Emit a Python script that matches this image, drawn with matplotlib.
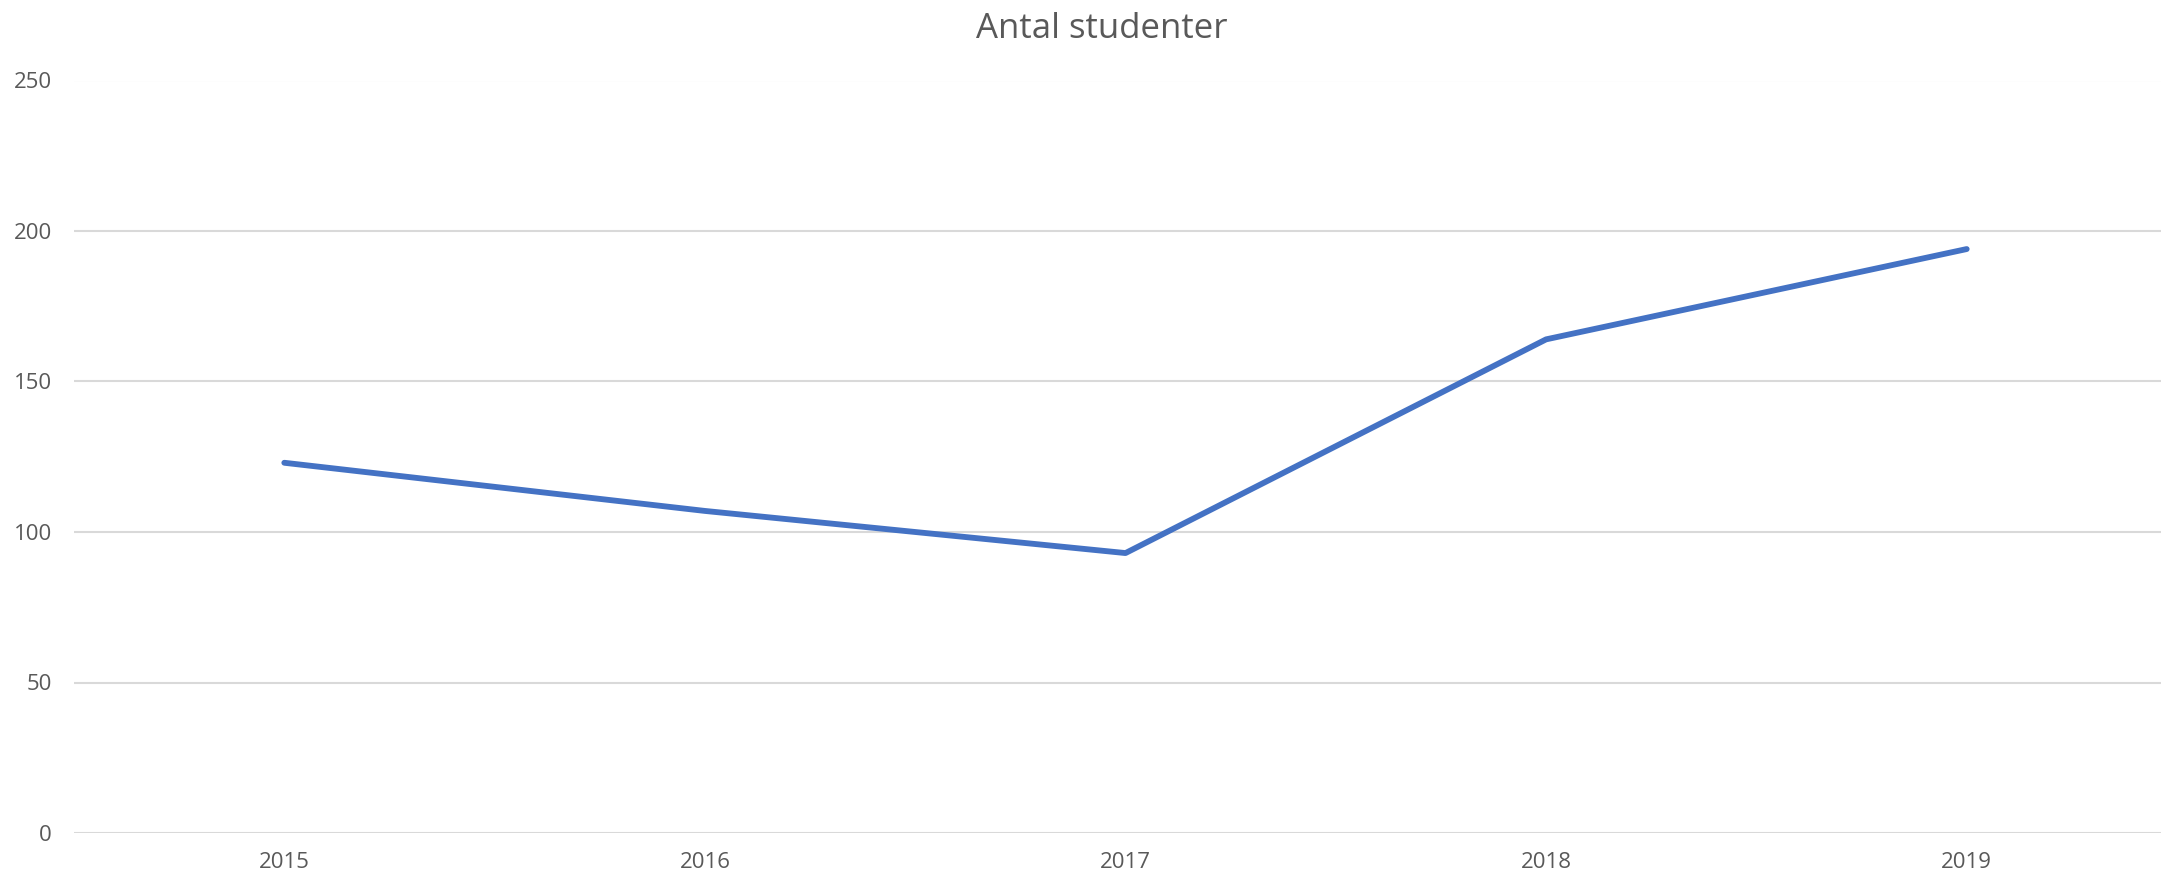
import matplotlib
matplotlib.use("Agg")
import matplotlib.pyplot as plt

# chart data
years = ["2015", "2016", "2017", "2018", "2019"]
students = [123, 107, 93, 164, 194]
y_ticks = [0, 50, 100, 150, 200, 250]

line_color = "#4472C4"
text_color = "#595959"
grid_color = "#D9D9D9"

plt.rcParams["font.family"] = ["Open Sans", "DejaVu Sans"]

fig = plt.figure(figsize=(21.61, 8.76), dpi=100)
# plot area runs a little past the right edge, like the cropped original
ax = fig.add_axes([74 / 2161, 43 / 876, 2103 / 2161, 752.5 / 876])

x = list(range(len(years)))
ax.plot(x, students, color=line_color, linewidth=4.2, solid_capstyle="round",
        solid_joinstyle="round", zorder=3)

ax.set_xlim(-0.5, len(years) - 0.5)
ax.set_ylim(0, 250)
ax.set_xticks(x)
ax.set_xticklabels(years)
ax.set_yticks(y_ticks)

ax.grid(axis="y", color=grid_color, linewidth=1.5)
ax.set_axisbelow(True)
for side in ["top", "right", "left", "bottom"]:
    ax.spines[side].set_visible(False)

ax.tick_params(axis="both", length=0, labelsize=16, labelcolor=text_color)
ax.tick_params(axis="y", pad=16)
ax.tick_params(axis="x", pad=14)

fig.text(1102 / 2161, 1 - 38 / 876, "Antal studenter", ha="center", va="baseline",
         fontsize=25, color=text_color)

fig.savefig("out.png", dpi=100)
